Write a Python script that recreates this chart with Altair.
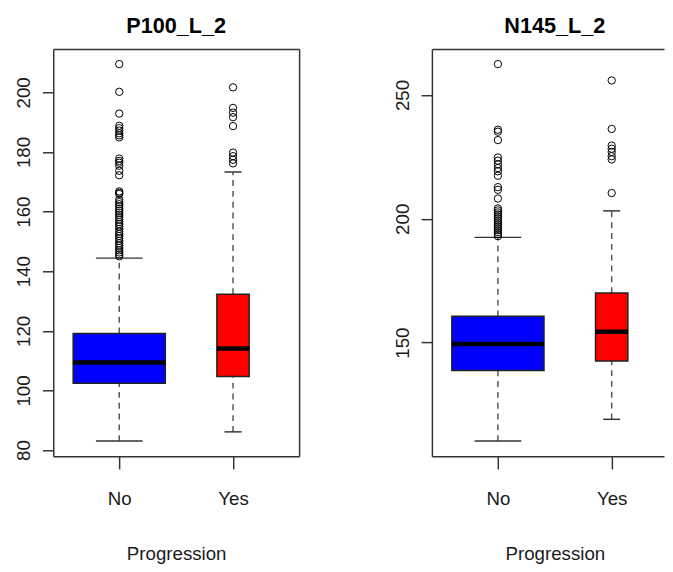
import altair as alt
import pandas as pd

# ---------------- data ----------------
groups = ["No", "Yes"]
group_pos = [1, 2]
fill_colors = ["#0000FF", "#FF0000"]

# P100_L_2
p100_lower = [83.0, 86.1]
p100_q1 = [102.4, 104.7]
p100_median = [109.4, 114.1]
p100_q3 = [119.1, 132.3]
p100_upper = [144.4, 173.3]
p100_out_no = [209.5, 200.2, 192.9, 188.8, 188.0, 187.2, 186.3, 185.6, 184.9,
               177.8, 177.0, 176.4, 175.4, 173.7, 172.2, 166.8, 166.3, 165.9,
               164.0, 163.2, 162.5, 161.8, 161.0, 160.3, 159.6, 158.9, 158.1,
               157.3, 156.5, 155.8, 155.0, 154.2, 153.3, 152.5, 151.8, 151.0,
               150.2, 149.4, 148.6, 147.8, 147.0, 146.3, 145.6, 145.0]
p100_out_yes = [201.7, 194.8, 193.2, 191.7, 188.7, 179.8, 178.6, 177.4, 176.2]

# N145_L_2
n145_lower = [110.2, 119.0]
n145_q1 = [138.7, 142.6]
n145_median = [149.4, 154.4]
n145_q3 = [160.6, 170.0]
n145_upper = [192.5, 203.2]
n145_out_no = [262.5, 236.0, 235.2, 231.8, 224.8, 223.5, 222.0, 220.5, 219.2,
               217.4, 212.8, 211.7, 208.2, 204.2, 203.4, 202.6, 201.8, 201.0,
               200.2, 199.4, 198.6, 197.8, 197.0, 196.2, 195.4, 194.6, 193.8,
               193.0]
n145_out_yes = [255.9, 236.3, 229.6, 228.3, 227.0, 225.3, 224.0, 210.4]

# ---------------- style / layout constants ----------------
BOX_HALF = [0.405, 0.142]   # varwidth box half-widths (x units)
CAP_HALF = [0.205, 0.075]   # whisker staple half-widths
PX_PER_UNIT = 115.7
LEFT_W = 250
RIGHT_W = 236
FULL_W = 250
PANEL_H = 414
X_LO = 0.42

AXIS_COLOR = "#333333"
TEXT_COLOR = "#1a1a1a"
NARROW = "Liberation Sans Narrow, Arial Narrow, Liberation Sans, Arial, sans-serif"
REGULAR = "Liberation Sans, Arial, sans-serif"


def panel(title, lower, q1, median, q3, upper, out_no, out_yes, yticks,
          width, right_frame):
    df = pd.DataFrame({
        "group": groups,
        "pos": group_pos,
        "lower": lower, "q1": q1, "median": median, "q3": q3, "upper": upper,
    })
    df["x_lo"] = [p - h for p, h in zip(group_pos, BOX_HALF)]
    df["x_hi"] = [p + h for p, h in zip(group_pos, BOX_HALF)]
    df["c_lo"] = [p - h for p, h in zip(group_pos, CAP_HALF)]
    df["c_hi"] = [p + h for p, h in zip(group_pos, CAP_HALF)]

    out = pd.DataFrame({
        "pos": [group_pos[0]] * len(out_no) + [group_pos[1]] * len(out_yes),
        "value": list(out_no) + list(out_yes),
    })

    all_vals = list(lower) + list(upper) + list(out_no) + list(out_yes)
    lo, hi = min(all_vals), max(all_vals)
    ext = 0.04 * (hi - lo)
    yscale = alt.Scale(domain=[lo - ext, hi + ext], nice=False, zero=False)
    xscale = alt.Scale(domain=[X_LO, X_LO + width / PX_PER_UNIT], nice=False, zero=False)

    label_expr = f"datum.value == {group_pos[0]} ? '{groups[0]}' : '{groups[1]}'"

    x_axis = alt.Axis(values=group_pos, labelExpr=label_expr, title="Progression",
                      tickSize=13, labelPadding=21, labelFont=NARROW, labelFontSize=19,
                      labelColor=TEXT_COLOR, titleFont=NARROW, titleFontSize=19,
                      titleFontWeight="normal", titleColor=TEXT_COLOR, titlePadding=37,
                      domainColor=AXIS_COLOR, tickColor=AXIS_COLOR, domainWidth=1.5,
                      tickWidth=1.5, grid=False, labelFlush=False,
                      titleX=FULL_W / 2)
    y_axis = alt.Axis(values=yticks, title=None, labelAngle=270, labelAlign="center",
                      labelBaseline="bottom", tickSize=11, labelPadding=9,
                      labelFont=REGULAR, labelFontSize=19, labelColor=TEXT_COLOR,
                      domainColor=AXIS_COLOR, tickColor=AXIS_COLOR, domainWidth=1.5,
                      tickWidth=1.5, grid=False, labelFlush=False)

    whisk_hi = alt.Chart(df).mark_rule(strokeDash=[6, 5], color="#555555", strokeWidth=1.5).encode(
        x=alt.X("pos:Q", scale=xscale, axis=None),
        y=alt.Y("q3:Q", scale=yscale, axis=None), y2="upper:Q")
    whisk_lo = alt.Chart(df).mark_rule(strokeDash=[6, 5], color="#555555", strokeWidth=1.5).encode(
        x=alt.X("pos:Q", scale=xscale, axis=None),
        y=alt.Y("lower:Q", scale=yscale, axis=None), y2="q1:Q")
    cap_hi = alt.Chart(df).mark_rule(color=AXIS_COLOR, strokeWidth=1.5).encode(
        x=alt.X("c_lo:Q", scale=xscale, axis=None), x2="c_hi:Q",
        y=alt.Y("upper:Q", scale=yscale, axis=None))
    cap_lo = alt.Chart(df).mark_rule(color=AXIS_COLOR, strokeWidth=1.5).encode(
        x=alt.X("c_lo:Q", scale=xscale, axis=None), x2="c_hi:Q",
        y=alt.Y("lower:Q", scale=yscale, axis=None))
    box = alt.Chart(df).mark_rect(stroke="#222222", strokeWidth=1.5).encode(
        x=alt.X("x_lo:Q", scale=xscale, axis=x_axis), x2="x_hi:Q",
        y=alt.Y("q1:Q", scale=yscale, axis=y_axis), y2="q3:Q",
        color=alt.Color("group:N", scale=alt.Scale(domain=groups, range=fill_colors), legend=None))
    med = alt.Chart(df).mark_rule(color="black", strokeWidth=4.5).encode(
        x=alt.X("x_lo:Q", scale=xscale, axis=None), x2="x_hi:Q",
        y=alt.Y("median:Q", scale=yscale, axis=None))

    top_axis = alt.Axis(orient="top", labels=False, ticks=False, title=None, grid=False,
                        domainColor=AXIS_COLOR, domainWidth=1.5)
    if right_frame:
        pts_y = alt.Y("value:Q", scale=yscale,
                      axis=alt.Axis(orient="right", labels=False, ticks=False, title=None,
                                    grid=False, domainColor=AXIS_COLOR, domainWidth=1.5))
    else:
        pts_y = alt.Y("value:Q", scale=yscale, axis=None)
    pts = alt.Chart(out).mark_point(shape="circle", filled=False, size=56, color="black",
                                    strokeWidth=1, opacity=1).encode(
        x=alt.X("pos:Q", scale=xscale, axis=top_axis), y=pts_y)

    return alt.layer(whisk_hi, whisk_lo, box, med, cap_hi, cap_lo, pts).resolve_axis(
        x="independent", y="independent").properties(
        width=width, height=PANEL_H,
        title=alt.TitleParams(text=title, font=NARROW, fontSize=22, fontWeight="bold",
                              color="black", anchor="middle", frame="group", offset=11,
                              dx=(FULL_W - width) / 2))


left = panel("P100_L_2", p100_lower, p100_q1, p100_median, p100_q3, p100_upper,
             p100_out_no, p100_out_yes, [80, 100, 120, 140, 160, 180, 200], LEFT_W, True)
right = panel("N145_L_2", n145_lower, n145_q1, n145_median, n145_q3, n145_upper,
              n145_out_no, n145_out_yes, [150, 200, 250], RIGHT_W, False)

chart = alt.hconcat(left, right, spacing=135, bounds="flush").properties(
    padding={"left": 6, "top": 2, "right": 0, "bottom": 0},
    background="white"
).configure_view(stroke="transparent")

chart.save("out.html", embed_options={"renderer": "svg", "actions": False})
